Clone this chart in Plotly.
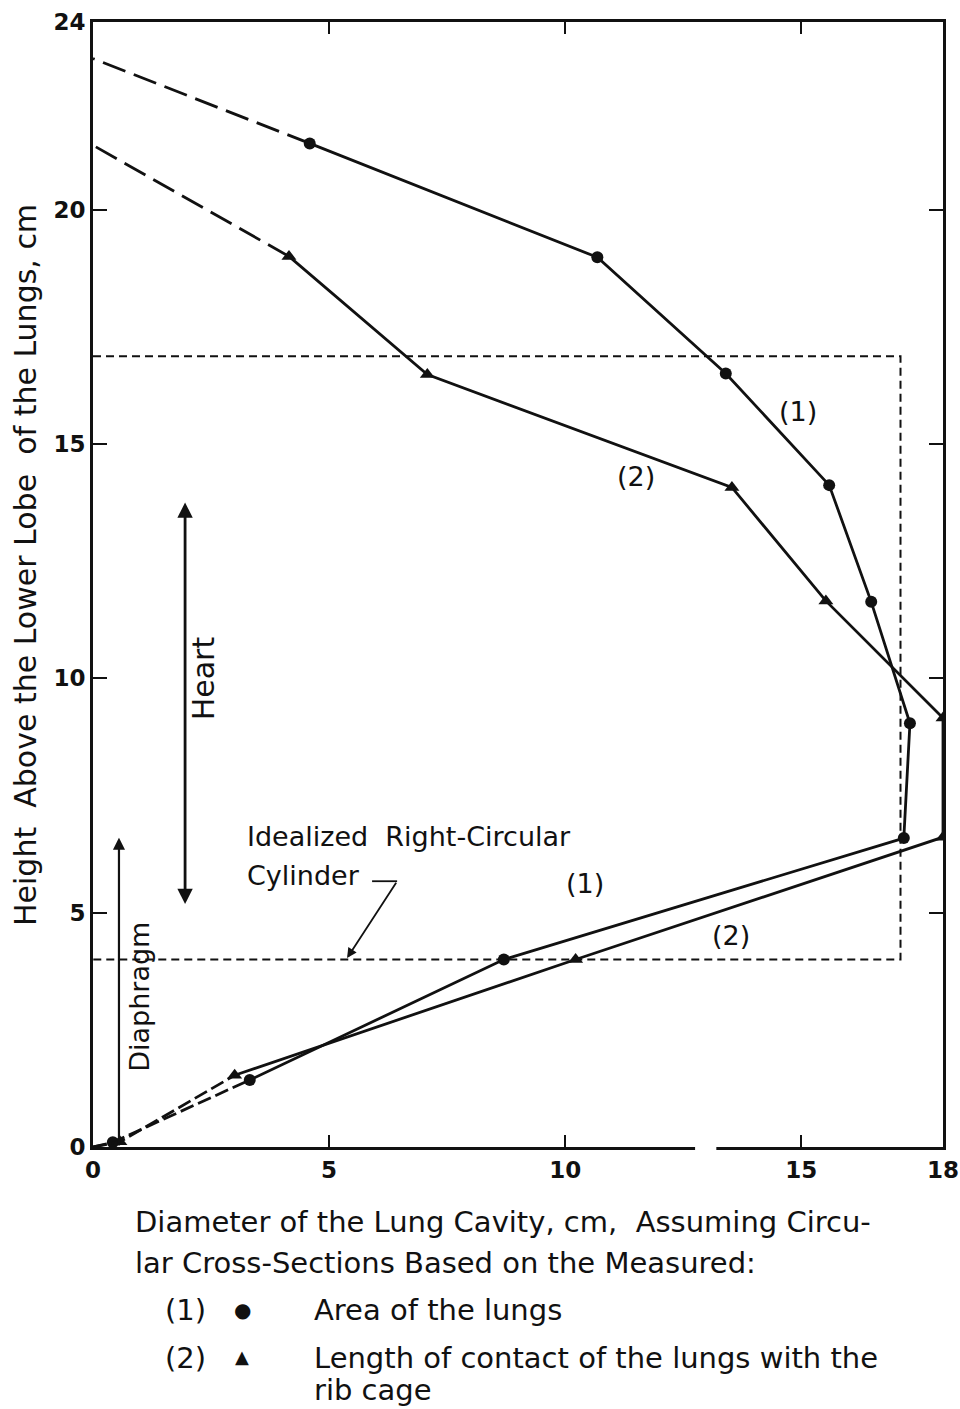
import plotly.graph_objects as go

# ---- data ----
# Series (1): diameter from area of the lungs (circles)
x1 = [0.0, 0.42, 3.32, 8.7, 17.17, 17.3, 16.48, 15.59, 13.4, 10.68, 4.59, 0.0]
y1 = [0.0, 0.10, 1.43, 4.0, 6.59, 9.04, 11.63, 14.12, 16.5, 18.98, 21.41, 23.22]
# Series (2): diameter from length of contact with rib cage (triangles)
x2 = [0.0, 0.57, 3.0, 10.22, 18.0, 18.0, 15.52, 13.53, 7.08, 4.15, 0.0]
y2 = [0.0, 0.11, 1.53, 4.0, 6.61, 9.15, 11.65, 14.07, 16.48, 19.0, 21.37]

# idealized right-circular cylinder (dashed box)
cyl_x = [0.0, 17.1, 17.1, 0.0]
cyl_y = [16.87, 16.87, 4.0, 4.0]

# heart / diaphragm extents
heart_x = 1.95
heart_y = [5.15, 13.75]
diaph_x = 0.55
diaph_y = [0.0, 6.6]

xticks = [0, 5, 10, 15, 18]
yticks = [0, 5, 10, 15, 20, 24]

FONT = "DejaVu Sans"
BLACK = "#111111"

fig = go.Figure()

# dashed box
fig.add_trace(go.Scatter(x=cyl_x, y=cyl_y, mode="lines",
                         line=dict(color=BLACK, width=2, dash="8px,5px"),
                         hoverinfo="skip", showlegend=False))

def add_series(xs, ys, symbol, msize, n_top_dashed):
    # lower dashed part: origin -> third point
    fig.add_trace(go.Scatter(x=xs[0:3], y=ys[0:3], mode="lines",
                             line=dict(color=BLACK, width=2.8, dash="14px,5px"),
                             hoverinfo="skip", showlegend=False))
    # solid part
    end = len(xs) - n_top_dashed
    fig.add_trace(go.Scatter(x=xs[2:end], y=ys[2:end], mode="lines",
                             line=dict(color=BLACK, width=2.8),
                             hoverinfo="skip", showlegend=False))
    # top dashed extrapolation to the axis
    fig.add_trace(go.Scatter(x=xs[end - 1:], y=ys[end - 1:], mode="lines",
                             line=dict(color=BLACK, width=2.8, dash="24px,9px"),
                             hoverinfo="skip", showlegend=False))
    # markers
    fig.add_trace(go.Scatter(x=xs[1:end], y=ys[1:end], mode="markers",
                             marker=dict(symbol=symbol, size=msize, color=BLACK),
                             hoverinfo="skip", showlegend=False))

add_series(x1, y1, "circle", 12, 1)
add_series(x2, y2, "triangle-up", 13, 1)

ann = []
tf = dict(family=FONT, size=27, color=BLACK)

# Heart double arrow
ann.append(dict(x=heart_x, y=heart_y[1], ax=heart_x, ay=heart_y[0], xref="x", yref="y",
                axref="x", ayref="y", text="", showarrow=True, arrowhead=2,
                arrowside="end+start", arrowsize=1.1, arrowwidth=2.8, arrowcolor=BLACK))
ann.append(dict(x=heart_x + 0.38, y=10.0, xref="x", yref="y",
                text="Heart", showarrow=False, textangle=-90,
                font=dict(family=FONT, size=30, color=BLACK)))
# Diaphragm arrow
ann.append(dict(x=diaph_x, y=diaph_y[1], ax=diaph_x, ay=diaph_y[0], xref="x", yref="y",
                axref="x", ayref="y", text="", showarrow=True, arrowhead=2,
                arrowsize=1.1, arrowwidth=2.2, arrowcolor=BLACK))
ann.append(dict(x=diaph_x + 0.42, y=3.2, xref="x", yref="y",
                text="Diaphragm", showarrow=False, textangle=-90, font=tf))
# Cylinder label
ann.append(dict(x=3.22, y=6.62, xref="x", yref="y", xanchor="left", yanchor="middle",
                text="Idealized  Right-Circular", showarrow=False, font=tf))
ann.append(dict(x=3.22, y=5.8, xref="x", yref="y", xanchor="left", yanchor="middle",
                text="Cylinder", showarrow=False, font=tf))
ann.append(dict(x=5.38, y=4.03, ax=6.44, ay=5.67, xref="x", yref="y", axref="x", ayref="y",
                text="", showarrow=True, arrowhead=2, arrowsize=1.1, arrowwidth=1.8,
                arrowcolor=BLACK))
# series labels
for t, xx, yy in [("(1)", 14.92, 15.7), ("(2)", 11.5, 14.3), ("(1)", 10.42, 5.63), ("(2)", 13.5, 4.52)]:
    ann.append(dict(x=xx, y=yy, xref="x", yref="y", text=t, showarrow=False, font=tf))

# axis titles / legend text below (paper coords)
def px(xp):
    return (xp - 93) / 850.0

def py(yp):
    return (1147 - yp) / 1125.0

bf = dict(family=FONT, size=29, color=BLACK)
ann.append(dict(x=px(133), y=py(1222), xref="paper", yref="paper", xanchor="left", yanchor="middle",
                text="Diameter of the Lung Cavity, cm,  Assuming Circu-", showarrow=False, font=bf))
ann.append(dict(x=px(133), y=py(1263), xref="paper", yref="paper", xanchor="left", yanchor="middle",
                text="lar Cross-Sections Based on the Measured:", showarrow=False, font=bf))
ann.append(dict(x=px(163), y=py(1310), xref="paper", yref="paper", xanchor="left", yanchor="middle",
                text="(1)", showarrow=False, font=bf))
ann.append(dict(x=px(242), y=py(1310), xref="paper", yref="paper", xanchor="center", yanchor="middle",
                text="●", showarrow=False, font=dict(family="DejaVu Sans", size=20, color=BLACK)))
ann.append(dict(x=px(312), y=py(1310), xref="paper", yref="paper", xanchor="left", yanchor="middle",
                text="Area of the lungs", showarrow=False, font=bf))
ann.append(dict(x=px(163), y=py(1358), xref="paper", yref="paper", xanchor="left", yanchor="middle",
                text="(2)", showarrow=False, font=bf))
ann.append(dict(x=px(242), y=py(1356), xref="paper", yref="paper", xanchor="center", yanchor="middle",
                text="▲", showarrow=False, font=dict(family="DejaVu Sans", size=18, color=BLACK)))
ann.append(dict(x=px(312), y=py(1358), xref="paper", yref="paper", xanchor="left", yanchor="middle",
                text="Length of contact of the lungs with the", showarrow=False, font=bf))
ann.append(dict(x=px(312), y=py(1390), xref="paper", yref="paper", xanchor="left", yanchor="middle",
                text="rib cage", showarrow=False, font=bf))
ann.append(dict(x=px(25), y=py(565), xref="paper", yref="paper", xanchor="center", yanchor="middle",
                text="Height  Above the Lower Lobe  of the Lungs, cm", showarrow=False,
                textangle=-90, font=dict(family=FONT, size=30, color=BLACK)))

shapes = [
    dict(type="line", xref="x", yref="y", x0=5.91, y0=5.67, x1=6.44, y1=5.67,
         line=dict(color=BLACK, width=1.8)),
    # small break in the bottom axis line, as in the reference scan
    dict(type="line", xref="x", yref="paper", x0=12.75, y0=0, x1=13.2, y1=0,
         layer="above", line=dict(color="white", width=6)),
]

axis_common = dict(showline=True, linewidth=3, linecolor=BLACK, mirror="ticks",
                   ticks="inside", tickwidth=2, tickcolor=BLACK, showgrid=False,
                   zeroline=False, automargin=False,
                   tickfont=dict(family=FONT, size=23, color=BLACK))

fig.update_layout(
    width=960, height=1409,
    margin=dict(l=93, r=17, t=22, b=262, autoexpand=False),
    paper_bgcolor="white", plot_bgcolor="white",
    xaxis=dict(range=[0, 18], tickvals=xticks, ticktext=["<b>%d</b>" % v for v in xticks],
               ticklen=12, **axis_common),
    yaxis=dict(range=[0, 24], tickvals=yticks, ticktext=["<b>%d</b>" % v for v in yticks],
               ticklen=14, **axis_common),
    annotations=ann, shapes=shapes, showlegend=False,
)

fig.write_html("out.html", config={"displayModeBar": False},
               post_script="document.body.style.margin='0';document.body.style.overflow='hidden';")
